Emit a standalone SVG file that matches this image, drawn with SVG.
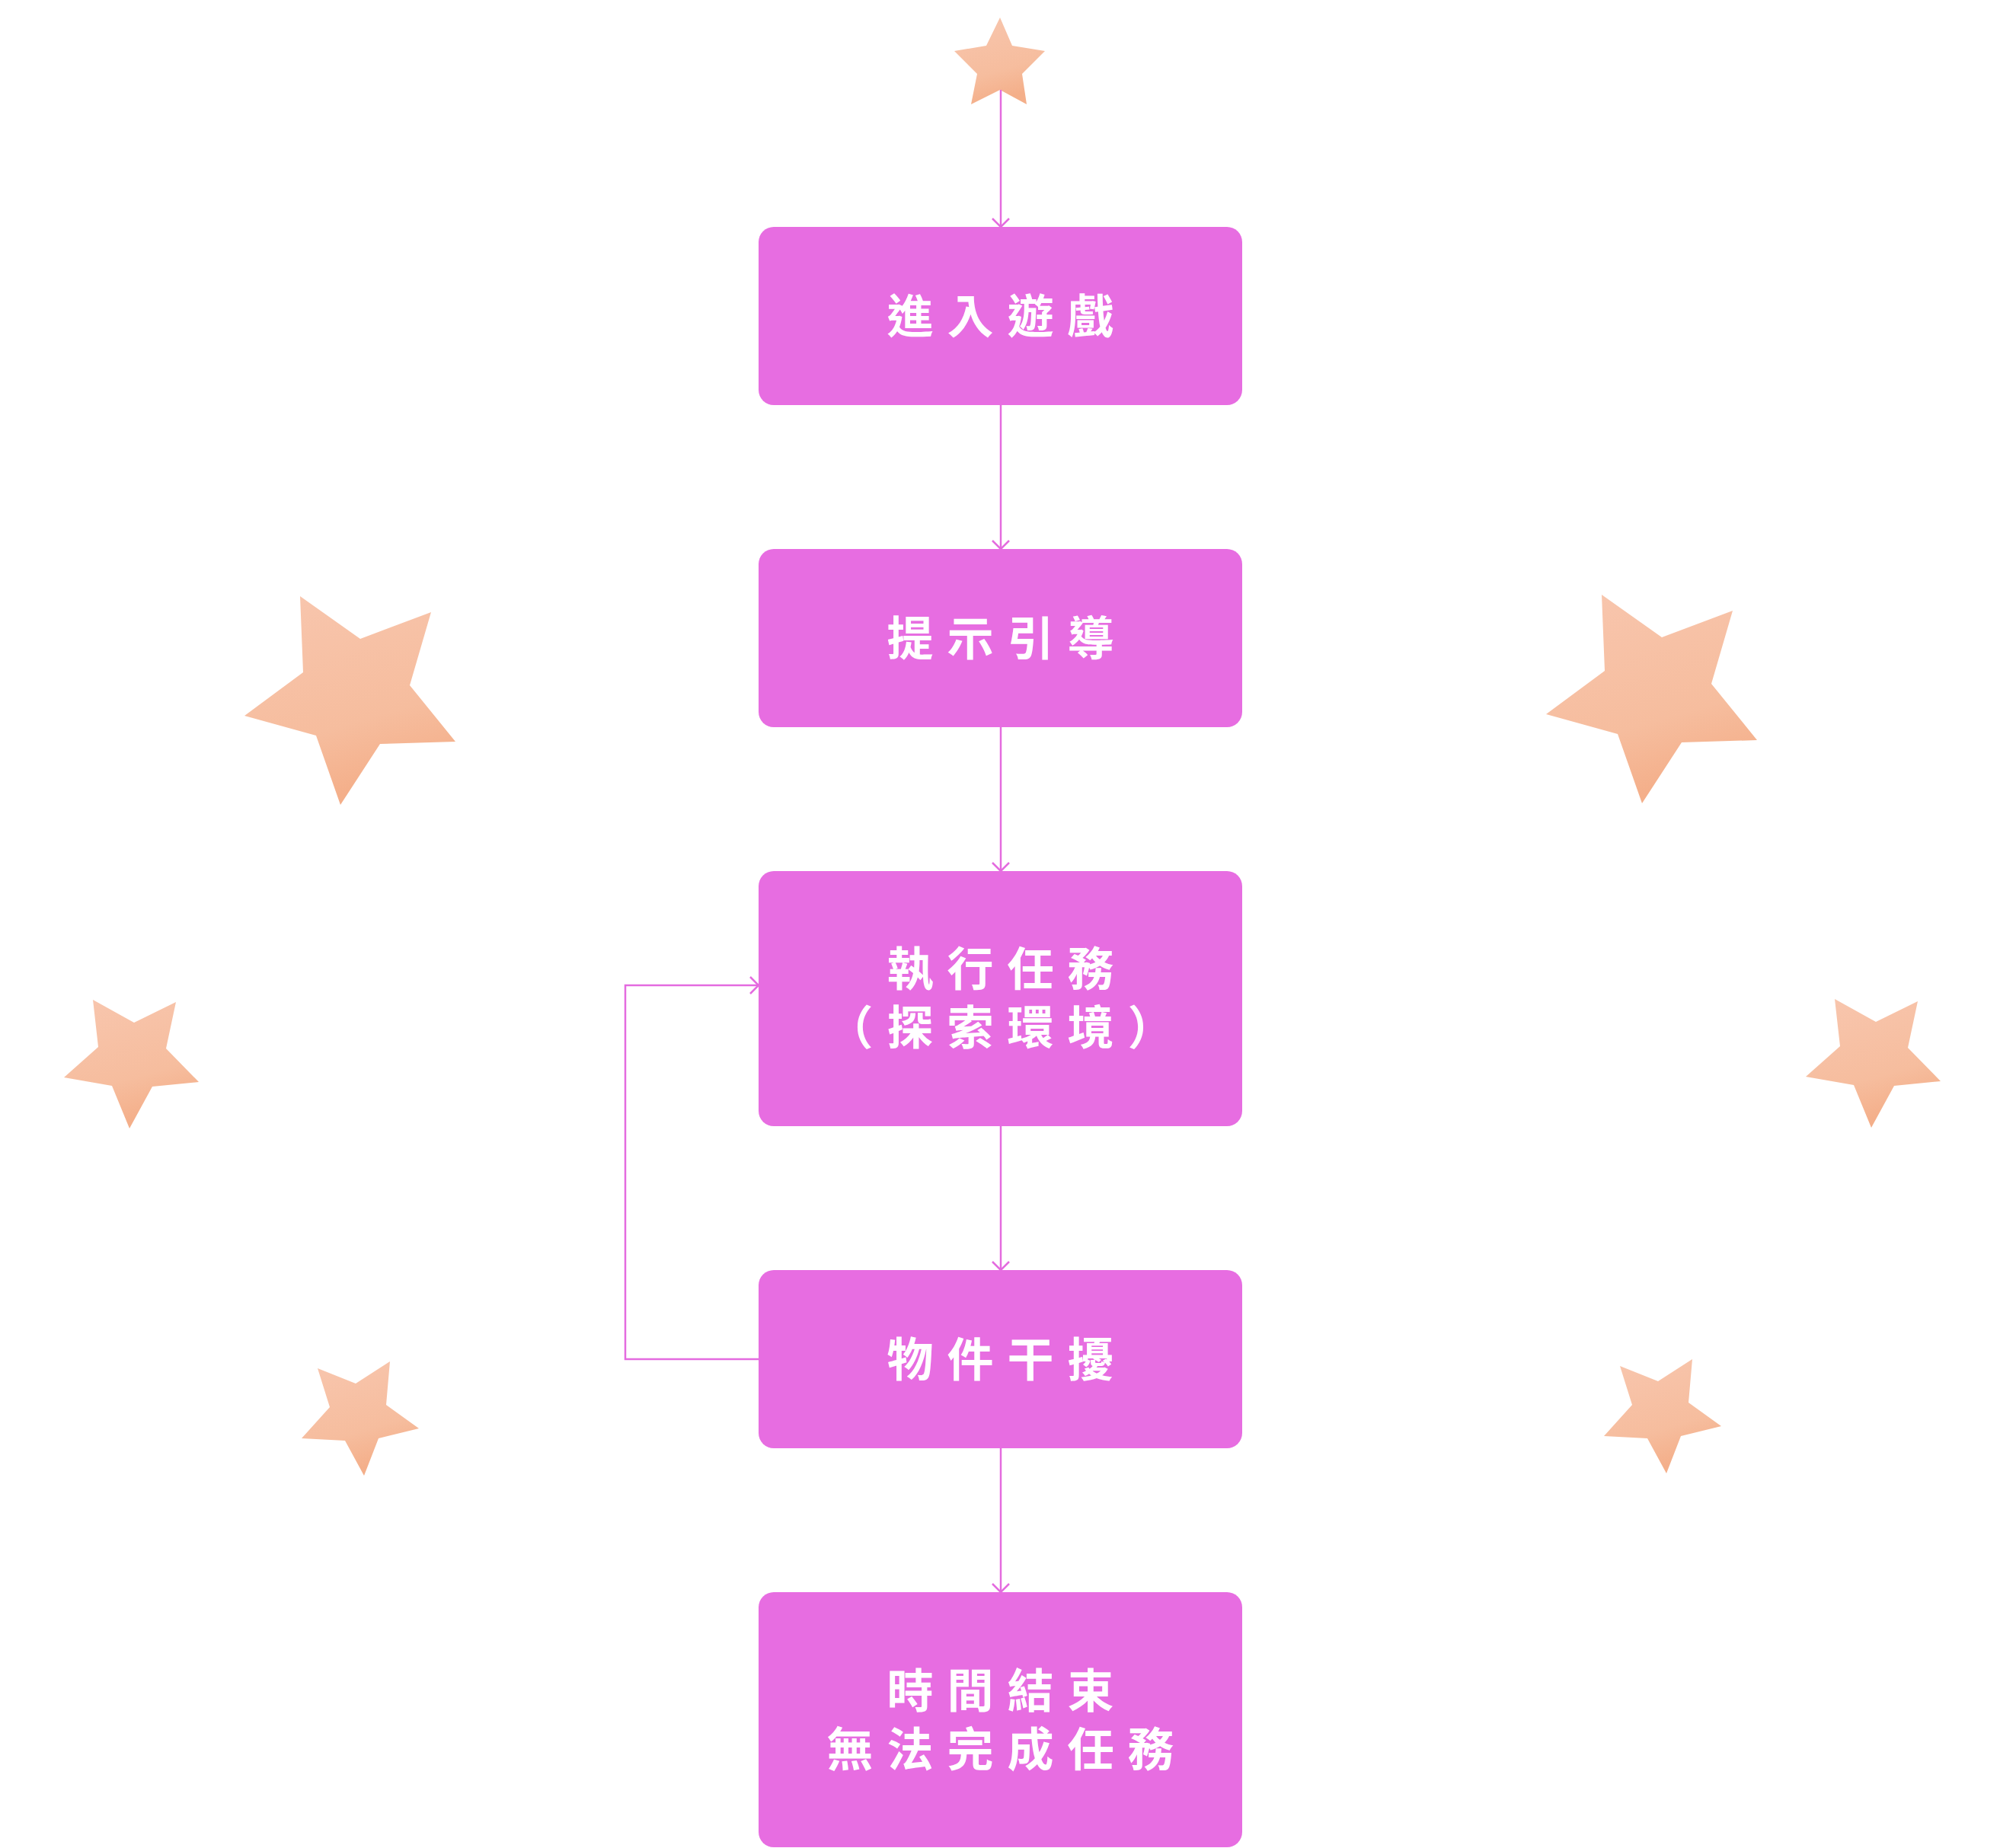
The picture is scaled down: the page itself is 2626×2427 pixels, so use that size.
<svg xmlns="http://www.w3.org/2000/svg" width="2626" height="2427" viewBox="0 0 2626 2427">
<defs>
<style>
.node rect{fill:#E76DE1;}
.node text{fill:#FFFFFF;font-family:"Noto Sans CJK TC","Noto Sans CJK SC",sans-serif;font-weight:700;font-size:61px;letter-spacing:18px;text-anchor:middle;}
.conn path{fill:none;stroke:#E46BDF;stroke-width:2.5;}
.star{fill:url(#starGrad);}
</style>
<linearGradient id="starGrad" x1="0" y1="0" x2="0.3" y2="1">
<stop offset="0" stop-color="#F8C6AE"/>
<stop offset="0.7" stop-color="#F6BD9E"/>
<stop offset="1" stop-color="#F4AF8A"/>
</linearGradient>
<marker id="arrow" viewBox="-12 -12 14 24" markerWidth="14" markerHeight="24" refX="0" refY="0" orient="auto" markerUnits="userSpaceOnUse">
<path d="M-11,-11 L0,0 L-11,11" fill="none" stroke="#E46BDF" stroke-width="2.5"/>
</marker>
<polygon id="starB" points="394,783 473,839 566,804 538,900 598,974 499,977 447,1057 415,966 321,940 398,883"/>
<polygon id="starD" points="122,1313 176,1343 231,1316 218,1377 261,1421 200,1427 170,1482 147,1426 84,1415 129,1375"/>
<polygon id="starF" points="417,1797 467,1817 512,1788 507,1845 550,1876 497,1889 478,1938 453,1892 396,1889 433,1848"/>
</defs>
<rect width="2626" height="2427" fill="#FFFFFF"/>
<g id="stars">
<polygon class="star" points="1313,23 1329,60 1372,67 1342,97 1348,137 1313,118 1275,137 1283,97 1253,67 1295,60"/>
<use href="#starB" class="star"/>
<use href="#starB" class="star" transform="translate(1709,-2)"/>
<use href="#starD" class="star"/>
<use href="#starD" class="star" transform="translate(2287,-1)"/>
<use href="#starF" class="star"/>
<use href="#starF" class="star" transform="translate(1710,-3)"/>
</g>
<g id="connectors" class="conn">
<path d="M1314,118 V298" marker-end="url(#arrow)"/>
<path d="M1314,532 V721" marker-end="url(#arrow)"/>
<path d="M1314,955 V1144" marker-end="url(#arrow)"/>
<path d="M1314,1479 V1668" marker-end="url(#arrow)"/>
<path d="M1314,1902 V2091" marker-end="url(#arrow)"/>
<path d="M996,1785 H821 V1294 H996" marker-end="url(#arrow)"/>
</g>
<g id="node-enter" class="node">
<rect x="996" y="298" width="635" height="234" rx="20"/>
<text x="1322.5" y="438">進入遊戲</text>
</g>
<g id="node-hint" class="node">
<rect x="996" y="721" width="635" height="234" rx="20"/>
<text x="1322.5" y="861">提示引導</text>
</g>
<g id="node-task" class="node">
<rect x="996" y="1144" width="635" height="335" rx="20"/>
<text x="1322.5" y="1295">執行任務</text>
<text x="1322.5" y="1372">（探索環境）</text>
</g>
<g id="node-interfere" class="node">
<rect x="996" y="1668" width="635" height="234" rx="20"/>
<text x="1322.5" y="1808">物件干擾</text>
</g>
<g id="node-end" class="node">
<rect x="996" y="2091" width="635" height="335" rx="20"/>
<text x="1322.5" y="2243">時間結束</text>
<text x="1322.5" y="2320">無法完成任務</text>
</g>
</svg>
